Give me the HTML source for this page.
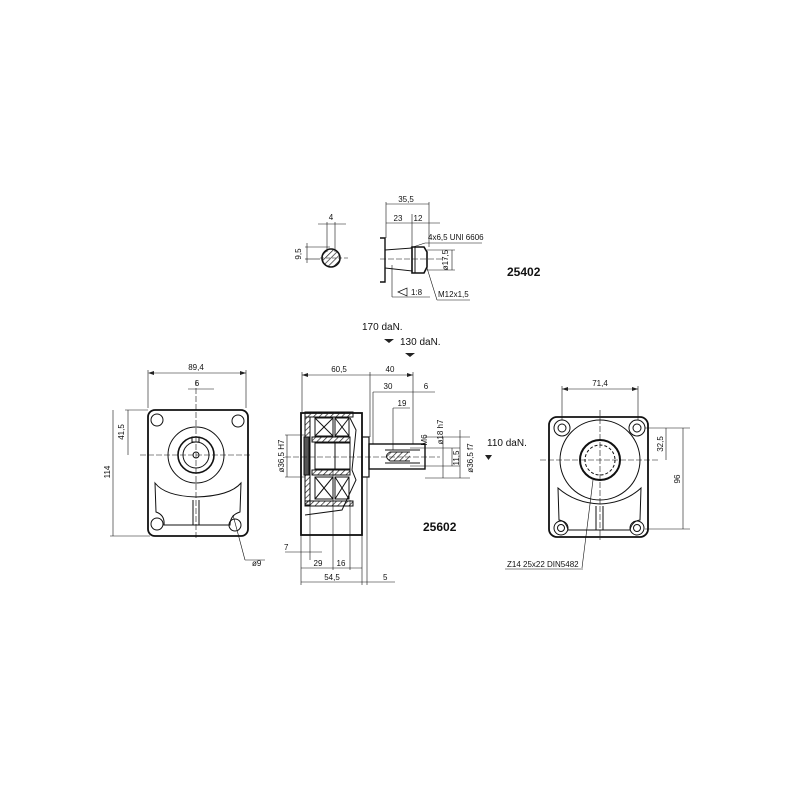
<!DOCTYPE html>
<html><head><meta charset="utf-8"><style>
html,body{margin:0;padding:0;background:#fff}
svg{display:block}
text{font-family:"Liberation Sans",sans-serif;fill:#111}
</style></head><body>
<svg width="800" height="800" viewBox="0 0 800 800" xmlns="http://www.w3.org/2000/svg">
<defs>
<pattern id="h" width="4" height="4" patternUnits="userSpaceOnUse" patternTransform="rotate(45)">
<line x1="0" y1="0" x2="0" y2="4" stroke="#222" stroke-width="1.4"/></pattern>
</defs>
<g fill="none" stroke="#111" stroke-width="1">
<!-- TOP DETAIL -->
<circle cx="331" cy="258" r="9" fill="url(#h)" stroke-width="1.6"/>
<line x1="320" y1="258" x2="350" y2="258" stroke-dasharray="4,2" stroke-width="0.6"/>
<line x1="327" y1="222" x2="327" y2="252" stroke-width="0.6"/>
<line x1="335" y1="222" x2="335" y2="252" stroke-width="0.6"/>
<line x1="318" y1="224" x2="346" y2="224" stroke-width="0.6"/>
<line x1="305" y1="247" x2="330" y2="247" stroke-width="0.6"/>
<line x1="305" y1="259" x2="320" y2="259" stroke-width="0.6"/>
<line x1="307" y1="243" x2="307" y2="263" stroke-width="0.6"/>
<path d="M380 238 H385 V282 H380" stroke-width="1.4"/>
<path d="M385 250 L412 248 V271 L385 268"/>
<path d="M412 247 H424 L427 252 V267 L424 273 H412 Z" stroke-width="1.6"/>
<line x1="415" y1="247" x2="415" y2="273"/>
<line x1="380" y1="259" x2="445" y2="259" stroke-dasharray="6,2" stroke-width="0.6"/>
<line x1="386" y1="202" x2="386" y2="238" stroke-width="0.6"/>
<line x1="429" y1="202" x2="429" y2="247" stroke-width="0.6"/>
<line x1="412" y1="214" x2="412" y2="247" stroke-width="0.6"/>
<line x1="386" y1="204" x2="429" y2="204" stroke-width="0.6"/>
<line x1="386" y1="223" x2="440" y2="223" stroke-width="0.6"/>
<line x1="410" y1="248" x2="425" y2="243" stroke-width="0.6"/>
<line x1="425" y1="243" x2="482" y2="243" stroke-width="0.6"/>
<line x1="427" y1="250" x2="455" y2="250" stroke-width="0.6"/>
<line x1="427" y1="270" x2="455" y2="270" stroke-width="0.6"/>
<line x1="452" y1="250" x2="452" y2="270" stroke-width="0.6"/>
<line x1="392" y1="265" x2="392" y2="297" stroke-width="0.6"/>
<line x1="392" y1="297" x2="430" y2="297" stroke-width="0.6"/>
<path d="M398 292 L407 288 V296 Z" stroke-width="0.7"/>
<line x1="427" y1="268" x2="437" y2="300" stroke-width="0.6"/>
<line x1="437" y1="300" x2="470" y2="300" stroke-width="0.6"/>

<!-- LEFT VIEW -->
<rect x="148" y="410" width="100" height="126" rx="7" stroke-width="1.8"/>
<circle cx="157" cy="420" r="6"/><circle cx="238" cy="421" r="6"/>
<circle cx="157" cy="524" r="6"/><circle cx="235" cy="525" r="6"/>
<circle cx="196" cy="455" r="28"/><circle cx="196" cy="455" r="18" stroke-width="1.6"/>
<circle cx="196" cy="455" r="13"/><circle cx="196" cy="455" r="3"/>
<rect x="192" y="437" width="7" height="5"/>
<path d="M155 483 L156 512 Q165 515 164 525 H230 Q230 515 240 512 L241 483 Q230 496 196 497 Q165 496 155 483 Z"/>
<line x1="193" y1="500" x2="193" y2="525"/><line x1="199" y1="500" x2="199" y2="525"/>
<line x1="196" y1="380" x2="196" y2="540" stroke-dasharray="6,2" stroke-width="0.6"/>
<line x1="140" y1="455" x2="250" y2="455" stroke-dasharray="6,2" stroke-width="0.6"/>
<line x1="148" y1="370" x2="148" y2="408" stroke-width="0.6"/>
<line x1="246" y1="370" x2="246" y2="408" stroke-width="0.6"/>
<line x1="150" y1="373" x2="246" y2="373" stroke-width="0.6"/>
<line x1="188" y1="389" x2="214" y2="389" stroke-width="0.6"/>
<line x1="128" y1="410" x2="128" y2="455" stroke-width="0.6"/>
<line x1="125" y1="410" x2="148" y2="410" stroke-width="0.6"/>
<line x1="113" y1="410" x2="113" y2="536" stroke-width="0.6"/>
<line x1="110" y1="536" x2="150" y2="536" stroke-width="0.6"/>
<line x1="233" y1="515" x2="245" y2="560" stroke-width="0.6"/>
<line x1="245" y1="560" x2="265" y2="560" stroke-width="0.6"/>

<!-- MIDDLE VIEW -->
<rect x="301" y="413" width="61" height="122" stroke-width="1.8"/>
<rect x="305" y="412" width="48" height="5" fill="url(#h)"/>
<rect x="305" y="501" width="48" height="5" fill="url(#h)"/>
<rect x="312" y="437" width="38" height="5" fill="url(#h)"/>
<rect x="312" y="470" width="38" height="5" fill="url(#h)"/>
<rect x="315" y="418" width="18" height="18"/><line x1="315" y1="418" x2="333" y2="436"/><line x1="333" y1="418" x2="315" y2="436"/>
<rect x="335" y="418" width="14" height="18"/><line x1="335" y1="418" x2="349" y2="436"/><line x1="349" y1="418" x2="335" y2="436"/>
<rect x="315" y="477" width="18" height="22"/><line x1="315" y1="477" x2="333" y2="499"/><line x1="333" y1="477" x2="315" y2="499"/>
<rect x="335" y="477" width="14" height="22"/><line x1="335" y1="477" x2="349" y2="499"/><line x1="349" y1="477" x2="335" y2="499"/>
<rect x="305" y="417" width="5" height="88" fill="url(#h)"/>
<rect x="304" y="437" width="5" height="38" fill="#555"/>
<rect x="315" y="443" width="35" height="26"/>
<line x1="335" y1="443" x2="335" y2="469"/>
<path d="M350 418 L356 430 L352 470 L356 480 L342 510 L305 515"/>
<rect x="362" y="437" width="7" height="40" stroke-width="1.2"/>
<rect x="369" y="444" width="56" height="25" stroke-width="1.4"/>
<path d="M410 452 H390 Q383 456 390 461 H410" fill="url(#h)"/>
<line x1="385" y1="450" x2="420" y2="450"/><line x1="385" y1="463" x2="420" y2="463"/>
<line x1="285" y1="457" x2="440" y2="457" stroke-dasharray="6,2" stroke-width="0.6"/>
<line x1="285" y1="435" x2="305" y2="435" stroke-width="0.6"/>
<line x1="285" y1="477" x2="305" y2="477" stroke-width="0.6"/>
<line x1="287" y1="435" x2="287" y2="477" stroke-width="0.6"/>
<line x1="302" y1="372" x2="302" y2="412" stroke-width="0.6"/>
<line x1="370" y1="372" x2="370" y2="437" stroke-width="0.6"/>
<line x1="413" y1="372" x2="413" y2="444" stroke-width="0.6"/>
<line x1="302" y1="375" x2="413" y2="375" stroke-width="0.6"/>
<line x1="373" y1="392" x2="435" y2="392" stroke-width="0.6"/>
<line x1="373" y1="392" x2="373" y2="444" stroke-width="0.6"/>
<line x1="393" y1="408" x2="410" y2="408" stroke-width="0.6"/>
<line x1="393" y1="408" x2="393" y2="450" stroke-width="0.6"/>
<line x1="425" y1="437" x2="470" y2="437" stroke-width="0.6"/>
<line x1="425" y1="478" x2="470" y2="478" stroke-width="0.6"/>
<line x1="443" y1="437" x2="443" y2="478" stroke-width="0.6"/>
<line x1="460" y1="430" x2="460" y2="478" stroke-width="0.6"/>
<line x1="452" y1="448" x2="452" y2="466" stroke-width="0.6"/>
<line x1="410" y1="448" x2="460" y2="448" stroke-width="0.6"/>
<line x1="410" y1="466" x2="460" y2="466" stroke-width="0.6"/>
<line x1="301" y1="535" x2="301" y2="585" stroke-width="0.6"/>
<line x1="310" y1="500" x2="310" y2="560" stroke-width="0.6"/>
<line x1="333" y1="470" x2="333" y2="570" stroke-width="0.6"/>
<line x1="350" y1="500" x2="350" y2="570" stroke-width="0.6"/>
<line x1="362" y1="535" x2="362" y2="585" stroke-width="0.6"/>
<line x1="367" y1="477" x2="367" y2="585" stroke-width="0.6"/>
<line x1="285" y1="552" x2="322" y2="552" stroke-width="0.6"/>
<line x1="301" y1="568" x2="362" y2="568" stroke-width="0.6"/>
<line x1="301" y1="582" x2="367" y2="582" stroke-width="0.6"/>
<line x1="367" y1="582" x2="395" y2="582" stroke-width="0.6"/>

<!-- RIGHT VIEW -->
<rect x="549" y="417" width="99" height="120" rx="8" stroke-width="1.8"/>
<circle cx="562" cy="428" r="8"/><circle cx="562" cy="428" r="4"/>
<circle cx="637" cy="428" r="8"/><circle cx="637" cy="428" r="4"/>
<circle cx="561" cy="528" r="7"/><circle cx="561" cy="528" r="3.5"/>
<circle cx="637" cy="528" r="7"/><circle cx="637" cy="528" r="3.5"/>
<circle cx="600" cy="460" r="40"/>
<circle cx="600" cy="460" r="20" stroke-width="2"/>
<circle cx="600" cy="460" r="15" stroke-dasharray="3,2"/>
<path d="M558 488 L559 520 Q566 521 568 530 H630 Q632 521 640 520 L641 488 Q625 503 600 504 Q575 503 558 488 Z"/>
<line x1="596" y1="506" x2="596" y2="530"/><line x1="603" y1="506" x2="603" y2="530"/>
<line x1="600" y1="410" x2="600" y2="540" stroke-dasharray="6,2" stroke-width="0.6"/>
<line x1="540" y1="460" x2="660" y2="460" stroke-dasharray="6,2" stroke-width="0.6"/>
<line x1="562" y1="386" x2="562" y2="420" stroke-width="0.6"/>
<line x1="638" y1="386" x2="638" y2="420" stroke-width="0.6"/>
<line x1="562" y1="389" x2="638" y2="389" stroke-width="0.6"/>
<line x1="645" y1="428" x2="690" y2="428" stroke-width="0.6"/>
<line x1="645" y1="529" x2="690" y2="529" stroke-width="0.6"/>
<line x1="666" y1="428" x2="666" y2="460" stroke-width="0.6"/>
<line x1="683" y1="428" x2="683" y2="529" stroke-width="0.6"/>
<line x1="593" y1="480" x2="582" y2="568" stroke-width="0.6"/>
<line x1="505" y1="569" x2="583" y2="569" stroke-width="0.6"/>
</g>
<!-- arrows -->
<g fill="#222">
<path d="M384 339 h10 l-5 4 z"/><path d="M405 353 h10 l-5 4 z"/><path d="M485 455 h7 l-3.5 5 z"/>
<path d="M148 373 l6 -2 v4 z"/><path d="M246 373 l-6 -2 v4 z"/>
<path d="M302 375 l6 -2 v4 z"/><path d="M413 375 l-6 -2 v4 z"/>
<path d="M562 389 l6 -2 v4 z"/><path d="M638 389 l-6 -2 v4 z"/>
</g>
<g font-size="8">
<text x="331" y="220" text-anchor="middle">4</text>
<text x="301" y="254" text-anchor="middle" transform="rotate(-90 301 254)">9,5</text>
<text x="406" y="202" text-anchor="middle">35,5</text>
<text x="398" y="221" text-anchor="middle">23</text>
<text x="418" y="221" text-anchor="middle">12</text>
<text x="428" y="240">4x6,5 UNI 6606</text>
<text x="448" y="260" text-anchor="middle" transform="rotate(-90 448 260)">ø17,5</text>
<text x="411" y="295">1:8</text>
<text x="438" y="297">M12x1,5</text>
<text x="196" y="370" text-anchor="middle">89,4</text>
<text x="197" y="386" text-anchor="middle">6</text>
<text x="124" y="432" text-anchor="middle" transform="rotate(-90 124 432)">41,5</text>
<text x="110" y="472" text-anchor="middle" transform="rotate(-90 110 472)">114</text>
<text x="252" y="566">ø9</text>
<text x="339" y="372" text-anchor="middle">60,5</text>
<text x="390" y="372" text-anchor="middle">40</text>
<text x="388" y="389" text-anchor="middle">30</text>
<text x="426" y="389" text-anchor="middle">6</text>
<text x="402" y="406" text-anchor="middle">19</text>
<text x="284" y="456" text-anchor="middle" transform="rotate(-90 284 456)">ø36,5 H7</text>
<text x="427" y="440" text-anchor="middle" transform="rotate(-90 427 440)">M6</text>
<text x="443" y="432" text-anchor="middle" transform="rotate(-90 443 432)">ø18 h7</text>
<text x="459" y="458" text-anchor="middle" transform="rotate(-90 459 458)">11,5</text>
<text x="473" y="458" text-anchor="middle" transform="rotate(-90 473 458)">ø36,5 f7</text>
<text x="284" y="550">7</text>
<text x="318" y="566" text-anchor="middle">29</text>
<text x="341" y="566" text-anchor="middle">16</text>
<text x="332" y="580" text-anchor="middle">54,5</text>
<text x="383" y="580">5</text>
<text x="600" y="386" text-anchor="middle">71,4</text>
<text x="663" y="444" text-anchor="middle" transform="rotate(-90 663 444)">32,5</text>
<text x="680" y="479" text-anchor="middle" transform="rotate(-90 680 479)">96</text>
<text x="507" y="567">Z14  25x22  DIN5482</text>
</g>
<g font-size="10">
<text x="362" y="330">170 daN.</text>
<text x="400" y="345">130 daN.</text>
<text x="487" y="446">110 daN.</text>
</g>
<g font-size="12" font-weight="bold">
<text x="507" y="276">25402</text>
<text x="423" y="531">25602</text>
</g>
</svg>
</body></html>
